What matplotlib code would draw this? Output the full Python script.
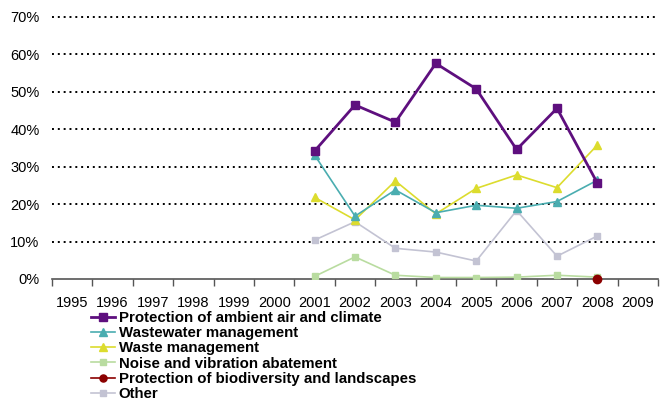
import numpy as np
import matplotlib.pyplot as plt

years = [str(y) for y in range(1995, 2010)]
yrs_data = [2001, 2002, 2003, 2004, 2005, 2006, 2007, 2008]

air = [34.2, 46.5, 41.9, 57.6, 50.8, 34.6, 45.6, 25.6]
wastewater = [33.1, 16.8, 23.8, 17.7, 19.7, 18.9, 20.7, 26.4]
waste = [21.8, 15.8, 26.2, 17.4, 24.2, 27.8, 24.4, 35.8]
noise = [0.7, 5.9, 1.0, 0.4, 0.4, 0.5, 1.0, 0.5]
biodiv_years = [2008]
biodiv = [0.0]
other = [10.4, 15.3, 8.2, 7.2, 4.8, 18.3, 6.1, 11.5]

plt.rcParams['font.family'] = ['Liberation Sans', 'DejaVu Sans']

fig = plt.figure(figsize=(6.69, 4.01), dpi=100)
ax = fig.add_axes([52/669, 1-279/401, 606/669, 262/401])

xpos = [years.index(str(y)) for y in yrs_data]
xb = [years.index(str(y)) for y in biodiv_years]

ax.plot(xpos, air, '-s', color='#5E0F7E', lw=2, ms=6, label='Protection of ambient air and climate', zorder=6)
ax.plot(xpos, wastewater, '-^', color='#4AADB0', lw=1.2, ms=6, label='Wastewater management', zorder=5)
ax.plot(xpos, waste, '-^', color='#DCDC2E', lw=1.2, ms=6, label='Waste management', zorder=4)
ax.plot(xpos, noise, '-s', color='#B9DCA0', lw=1.2, ms=4.5, label='Noise and vibration abatement', zorder=3)
ax.plot(xb, biodiv, '-o', color='#8B0000', lw=1.2, ms=6, label='Protection of biodiversity and landscapes', zorder=7, clip_on=False)
ax.plot(xpos, other, '-s', color='#C3C3D3', lw=1.2, ms=4.5, label='Other', zorder=2)

ax.set_xlim(-0.5, 14.5)
ax.set_ylim(0, 70)
ax.set_yticks(np.arange(0, 71, 10))
ax.set_yticklabels([f'{v}%' for v in range(0, 71, 10)], fontsize=10.5)
ax.set_xticks(range(15))
ax.set_xticklabels(years, fontsize=10.5)
ax.set_xticks(np.arange(-0.5, 15, 1), minor=True)
ax.tick_params(axis='x', which='major', length=0, pad=12.5)
ax.tick_params(axis='x', which='minor', length=5, width=1, color='#555555')
ax.tick_params(axis='y', length=0, pad=9)

for v in range(10, 71, 10):
    ax.axhline(v, color='black', lw=1.4, ls=(0, (1, 2)), zorder=1, clip_on=False)

for s in ['top', 'right', 'left']:
    ax.spines[s].set_visible(False)
ax.spines['bottom'].set_color('#555555')
ax.spines['bottom'].set_linewidth(1.2)

fig.legend(loc='upper left', bbox_to_anchor=(91/669, 1-311/401), frameon=False,
           prop={'weight': 'bold', 'size': 10.8}, handlelength=1.6, handletextpad=0.25,
           labelspacing=0.08, borderpad=0, borderaxespad=0, markerscale=0.85)

fig.savefig('out.png', dpi=100)
